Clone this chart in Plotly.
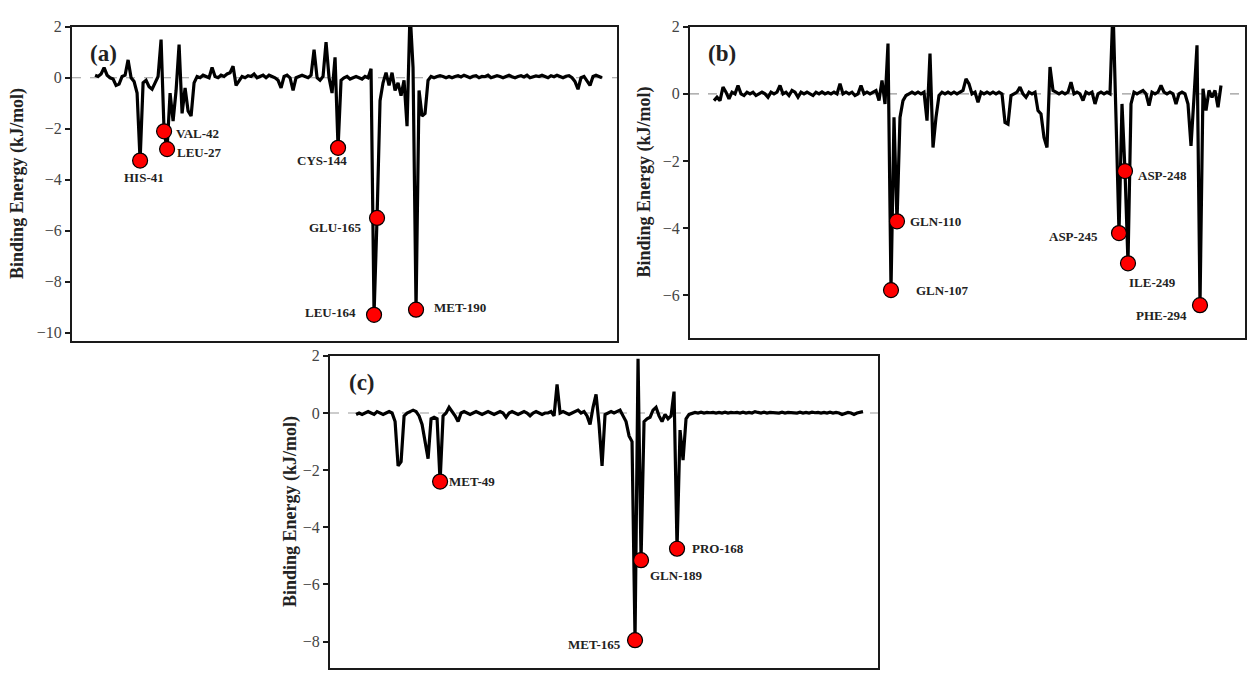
import plotly.graph_objects as go

# ---------------- data ----------------
# per-residue binding energy (kJ/mol), residue index along x
energy_a = [
    0.10, 0.05, 0.15, 0.40, 0.10, 0.00, -0.05, -0.30, -0.25, 0.05,
    0.10, 0.70, 0.00, -0.15, -0.60, -3.25, -0.20, -0.10, -0.35, -0.45,
    -0.20, 0.05, 1.50, -2.10, -2.80, -0.60, -1.70, -0.50, 1.30, -1.40,
    -0.40, -1.30, -1.50, -0.20, 0.05, 0.00, 0.10, 0.05, 0.00, 0.40,
    0.05, 0.00, 0.10, 0.05, 0.15, 0.20, 0.45, -0.30, -0.10, 0.05,
    0.00, 0.08, 0.05, 0.15, 0.00, 0.05, 0.10, 0.00, 0.10, 0.05,
    0.00, -0.10, -0.40, 0.05, 0.10, 0.00, -0.50, 0.00, 0.05, 0.10,
    0.05, 0.00, 0.10, 1.10, 0.00, -0.10, 0.05, 1.40, 0.00, -0.60,
    0.80, -2.75, -0.10, 0.00, 0.05, -0.05, 0.00, 0.05, 0.00, -0.05,
    0.05, 0.00, 0.35, -9.30, -5.50, -0.90, -0.20, 0.20, -0.30, 0.20,
    -0.50, -0.20, -0.70, -0.10, -1.90, 2.60, 0.40, -9.10, -0.50, -1.50,
    -1.40, -0.10, 0.05, 0.00, 0.05, 0.08, 0.05, 0.00, 0.05, 0.00,
    0.05, 0.08, 0.03, 0.10, 0.05, 0.00, 0.06, 0.08, 0.00, 0.05,
    0.04, 0.10, 0.00, 0.05, 0.08, 0.05, 0.00, 0.05, 0.10, 0.04,
    0.00, 0.05, 0.08, 0.03, 0.10, 0.00, 0.05, 0.07, 0.05, 0.10,
    0.05, 0.00, 0.08, 0.04, 0.10, 0.05, 0.00, 0.06, 0.08, 0.00,
    -0.15, -0.45, 0.00, 0.05, -0.10, -0.30, 0.05, 0.10, 0.05, 0.00,
]
energy_b = [
    -0.20, -0.10, -0.20, 0.20, 0.05, -0.15, 0.05, 0.00, 0.25, 0.00,
    -0.05, 0.05, 0.00, 0.05, -0.05, 0.00, 0.05, 0.00, -0.10, 0.05,
    0.00, 0.05, 0.25, 0.00, 0.05, -0.05, 0.10, 0.05, -0.10, 0.05,
    0.00, 0.05, 0.00, -0.05, 0.05, 0.00, 0.06, 0.00, 0.04, 0.00,
    0.05, 0.00, 0.30, 0.00, 0.05, 0.00, 0.05, -0.05, 0.00, 0.25,
    0.00, 0.05, 0.00, 0.05, 0.10, -0.20, 0.40, -0.30, 1.50, -5.85,
    -0.70, -3.80, -0.70, -0.20, -0.05, 0.00, 0.05, 0.00, 0.05, 0.00,
    0.05, -0.80, 1.20, -1.60, -0.70, -0.05, 0.05, 0.00, 0.05, 0.00,
    0.05, 0.00, 0.05, 0.10, 0.45, 0.30, 0.00, 0.05, -0.25, 0.05,
    0.00, 0.05, 0.00, 0.05, 0.00, 0.05, 0.00, -0.85, -0.90, -0.05,
    0.00, 0.05, 0.20, 0.00, -0.10, 0.05, 0.00, 0.05, -0.50, -0.60,
    -1.30, -1.60, 0.80, 0.10, 0.05, 0.00, 0.05, 0.00, 0.05, 0.35,
    0.00, 0.05, 0.00, -0.20, 0.05, 0.00, 0.05, -0.30, 0.00, 0.05,
    0.00, 0.05, 0.00, 2.60, -0.70, -4.15, -0.30, -2.30, -5.05, -0.30,
    0.05, 0.00, 0.05, 0.10, 0.00, -0.35, 0.05, 0.00, 0.05, 0.25,
    0.05, 0.00, 0.05, 0.00, -0.30, 0.00, 0.05, 0.00, -0.30, -1.55,
    -0.10, 1.45, -6.30, 0.15, -0.50, 0.10, -0.10, 0.10, -0.40, 0.25,
]
energy_c = [
    -0.05, 0.00, -0.05, 0.00, 0.05, 0.00, -0.05, 0.05, 0.00, -0.05,
    0.00, 0.05, 0.00, -0.30, -1.85, -1.70, -0.10, 0.00, 0.05, 0.10,
    0.05, -0.10, -0.40, -1.00, -1.60, -0.20, -0.15, -0.20, -2.40, -0.10,
    0.00, 0.20, 0.05, -0.10, -0.30, 0.00, 0.05, 0.00, -0.05, 0.00,
    0.05, 0.00, -0.05, 0.00, 0.05, 0.00, -0.05, 0.00, 0.05, 0.00,
    -0.15, 0.00, 0.05, 0.00, -0.05, 0.00, 0.05, 0.00, -0.10, 0.00,
    0.05, 0.00, -0.05, 0.00, 0.00, 0.05, -0.10, 1.00, 0.00, 0.05,
    0.00, -0.05, 0.00, 0.05, 0.10, 0.00, 0.05, -0.10, -0.40, 0.20,
    0.65, -0.40, -1.85, -0.05, 0.00, 0.05, 0.00, 0.05, 0.10, -0.10,
    -0.30, -0.80, -1.00, -7.95, 1.90, -5.15, -0.30, -0.20, -0.15, 0.10,
    0.20, -0.10, -0.30, -0.05, -0.20, -0.10, 0.75, -4.75, -0.60, -1.65,
    -0.20, -0.05, 0.00, 0.02, 0.00, 0.03, 0.00, 0.02, 0.01, 0.02,
    0.00, 0.02, 0.00, 0.03, 0.00, 0.02, 0.01, 0.02, 0.00, 0.03,
    0.00, 0.02, 0.00, 0.05, 0.02, 0.00, 0.03, 0.00, 0.02, 0.01,
    0.02, 0.00, 0.03, 0.00, 0.02, 0.01, 0.02, 0.00, 0.03, 0.00,
    0.02, 0.00, 0.03, 0.01, 0.02, 0.00, 0.02, 0.00, 0.03, 0.00,
    0.02, 0.00, -0.05, 0.00, 0.02, 0.00, -0.05, 0.00, 0.02, 0.05,
]

# key residues: name and position (index into the series)
residues_a = ["HIS-41", "VAL-42", "LEU-27", "CYS-144", "GLU-165", "LEU-164", "MET-190"]
res_idx_a = [15, 23, 24, 81, 94, 93, 107]
residues_b = ["GLN-110", "GLN-107", "ASP-248", "ASP-245", "ILE-249", "PHE-294"]
res_idx_b = [61, 59, 137, 135, 138, 162]
residues_c = ["MET-49", "GLN-189", "PRO-168", "MET-165"]
res_idx_c = [28, 95, 107, 93]

panel_letters = ["(a)", "(b)", "(c)"]
y_ticks_a = [2, 0, -2, -4, -6, -8, -10]
y_ticks_b = [2, 0, -2, -4, -6]
y_ticks_c = [2, 0, -2, -4, -6, -8]

# ---------------- style ----------------
W, H = 1258, 682
SERIF = "Liberation Serif"

# label placement style (xanchor, xshift px, yshift px)
label_style_a = [("center", 4, -17), ("left", 10, -2), ("left", 8, -3),
                 ("center", -16, -13), ("right", -13, -10), ("right", -16, 2),
                 ("left", 16, 2)]
label_style_b = [("left", 11, 0), ("left", 23, 0), ("left", 11, -4),
                 ("right", -19, -3), ("center", 24, -19), ("right", -11, -10)]
label_style_c = [("left", 7, 0), ("left", 7, -15), ("left", 13, 0),
                 ("right", -12, -4)]

panels = [
    dict(y=energy_a, names=residues_a, idx=res_idx_a, lstyle=label_style_a,
         box=(72, 617, 19, 337), xr=(-7.7, 174), yr=(-10.33, 2.0), ticks=y_ticks_a,
         letter_px=(103, 46), title_x=18),
    dict(y=energy_b, names=residues_b, idx=res_idx_b, lstyle=label_style_b,
         box=(690, 1245, 19, 334), xr=(-8.0, 177), yr=(-7.28, 2.0), ticks=y_ticks_b,
         letter_px=(722, 46), title_x=644),
    dict(y=energy_c, names=residues_c, idx=res_idx_c, lstyle=label_style_c,
         box=(330, 878, 352, 668), xr=(-8.7, 174), yr=(-8.93, 2.0), ticks=y_ticks_c,
         letter_px=(362, 379), title_x=290),
]

fig = go.Figure()
layout = dict(width=W, height=H, margin=dict(l=0, r=0, t=0, b=0),
              paper_bgcolor="white", plot_bgcolor="white", showlegend=False)
annotations = []
shapes = []

for k, p in enumerate(panels):
    n = "" if k == 0 else str(k + 1)
    xa, ya = "x" + n, "y" + n
    x0, x1, t0, b0 = p["box"]
    xs = list(range(len(p["y"])))
    fig.add_trace(go.Scatter(x=xs, y=p["y"], mode="lines", xaxis=xa, yaxis=ya,
                             line=dict(color="black", width=3.2), hoverinfo="skip"))
    mx = p["idx"]
    my = [p["y"][i] for i in mx]
    fig.add_trace(go.Scatter(x=mx, y=my, mode="markers", xaxis=xa, yaxis=ya,
                             marker=dict(size=15, color="#ff0000",
                                         line=dict(color="black", width=1.2)),
                             cliponaxis=False))
    layout["xaxis" + n] = dict(domain=[x0 / W, x1 / W], range=list(p["xr"]),
                               anchor=ya, showgrid=False, zeroline=False,
                               showticklabels=False, ticks="", showline=True,
                               mirror=True, linecolor="#1a1a1a", linewidth=2)
    layout["yaxis" + n] = dict(domain=[1 - b0 / H, 1 - t0 / H], range=list(p["yr"]),
                               anchor=xa, showgrid=False, zeroline=False,
                               tickvals=p["ticks"], ticks="outside", ticklen=5,
                               tickwidth=1.5, tickcolor="#1a1a1a",
                               tickfont=dict(family=SERIF, size=16, color="#444"),
                               showline=True, mirror=True, linecolor="#1a1a1a",
                               linewidth=2)
    shapes.append(dict(type="line", xref=xa + " domain", yref=ya, x0=0, x1=1,
                       y0=0, y1=0, layer="below",
                       line=dict(color="#999999", width=1.2, dash="dash")))
    for name, i, (anc, dx, dy) in zip(p["names"], mx, p["lstyle"]):
        annotations.append(dict(x=i, y=p["y"][i], xref=xa, yref=ya, text="<b>%s</b>" % name,
                                showarrow=False, xanchor=anc, yanchor="middle",
                                xshift=dx, yshift=dy,
                                font=dict(family=SERIF, size=13, color="#222")))
    lx, ly = p["letter_px"]
    annotations.append(dict(x=lx / W, y=1 - ly / H, xref="paper", yref="paper",
                            text="<b>%s</b>" % panel_letters[k], showarrow=False,
                            xanchor="center", yanchor="middle",
                            font=dict(family=SERIF, size=23, color="#222")))
    annotations.append(dict(x=p["title_x"] / W, y=1 - (t0 + b0) / 2 / H,
                            xref="paper", yref="paper",
                            text="<b>Binding Energy (kJ/mol)</b>", textangle=-90,
                            showarrow=False, xanchor="center", yanchor="middle",
                            font=dict(family=SERIF, size=18, color="#222")))

layout["annotations"] = annotations
layout["shapes"] = shapes
fig.update_layout(**layout)
fig.write_html("out.html")
